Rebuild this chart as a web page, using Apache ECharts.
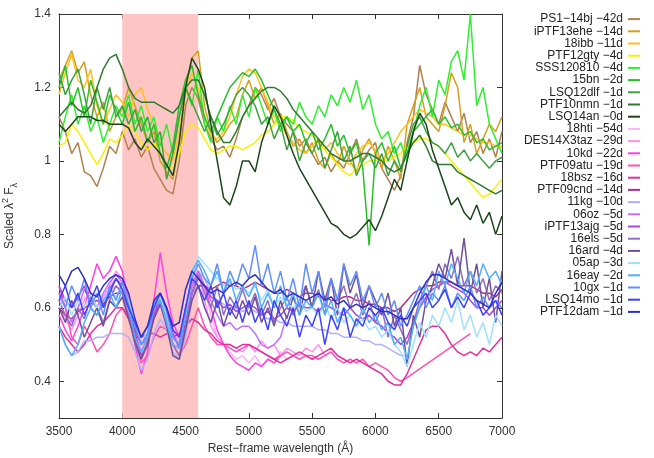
<!DOCTYPE html>
<html><head><meta charset="utf-8">
<script src="https://cdn.jsdelivr.net/npm/echarts@6/dist/echarts.min.js"></script>
<style>html,body{margin:0;padding:0;background:#fff}#c{width:654px;height:458px}</style>
</head><body><div id="c"></div>
<script>
const wavelength = [3500,3550,3600,3650,3700,3750,3800,3850,3900,3950,
4000,4050,4100,4150,4200,4250,4300,4350,4400,4450,
4500,4550,4600,4650,4700,4750,4800,4850,4900,4950,
5000,5050,5100,5150,5200,5250,5300,5350,5400,5450,
5500,5550,5600,5650,5700,5750,5800,5850,5900,5950,
6000,6050,6100,6150,6200,6250,6300,6350,6400,6450,
6500,6550,6600,6650,6700,6750,6800,6850,6900,6950,
7000];
const xTicks = [3500,4000,4500,5000,5500,6000,6500,7000];
const yTicks = [0.4,0.6,0.8,1.0,1.2,1.4];
const bandRange = [4000,4600];

const names = ['PS1−14bj −42d','iPTF13ehe −14d','18ibb −11d','PTF12gty −4d','SSS120810 −4d','15bn −2d','LSQ12dlf −1d','PTF10nmn −1d','LSQ14an −0d',
'18hti −54d','DES14X3taz −29d','10kd −22d','PTF09atu −19d','18bsz −16d','PTF09cnd −14d','11kg −10d','06oz −5d','iPTF13ajg −5d','16els −5d','16ard −4d','05ap −3d','16eay −2d','10gx −1d','LSQ14mo −1d','PTF12dam −1d'];
const colors = ['#b08050','#d4a020','#ffc020','#f8f000','#30ee30','#28c028','#40a040','#307a30','#1c451c',
'#ffb4f4','#ff90f0','#ff40e4','#ff50b4','#e0309c','#b03080','#b0b0ff','#c070ff','#a844e0','#9070c0','#705098','#a0e0ff','#50b0ff','#6090ff','#4040ff','#3030c8'];

const ps1_14bj = [1.12,1.08,1.02,1.05,0.97,0.96,0.93,0.98,1.04,1.02,
1.08,1.03,1.06,1.01,1.04,0.98,0.95,0.92,0.91,1.0,
1.15,1.2,1.17,1.1,1.06,1.03,1.04,1.01,1.06,1.12,
1.15,1.2,1.18,1.14,1.17,1.12,1.1,1.08,1.04,1.06,
1.02,0.99,1.01,0.97,1.0,0.98,1.02,1.06,1.0,1.03,
1.05,0.98,0.95,0.92,0.96,1.05,1.12,1.26,1.18,1.14,
1.1,1.16,1.12,1.08,1.13,1.05,1.08,1.02,1.06,1.01,
1.08];
const iptf13ehe = [1.22,1.26,1.3,1.24,1.27,1.18,1.12,1.16,1.08,1.12,
1.14,1.2,1.15,1.1,1.05,1.08,1.0,0.97,0.95,1.05,
1.2,1.28,1.3,1.15,1.08,1.05,1.07,1.1,1.12,1.18,
1.22,1.17,1.2,1.15,1.1,1.13,1.08,1.04,1.06,1.02,
1.05,1.0,0.98,1.02,0.99,1.04,1.0,0.97,1.03,1.06,
1.02,0.98,1.04,1.0,0.95,1.1,1.15,1.2,1.12,1.1,
1.08,1.15,1.24,1.2,1.05,1.1,1.02,1.06,1.1,1.08,
1.12];
const sn18ibb = [1.18,1.24,1.29,1.22,1.2,1.25,1.15,1.1,1.14,1.18,
1.16,1.12,1.18,1.2,1.14,1.1,1.05,1.02,1.0,1.08,
1.18,1.24,1.2,1.12,1.07,1.06,1.08,1.12,1.18,1.23,
1.25,1.24,1.2,1.16,1.12,1.1,1.07,1.05,1.03,1.02,
1.04,1.06,1.03,1.05,1.02,1.0,0.99,1.02,1.04,1.05,
1.03,1.0,1.02,1.05,1.08,1.1,1.12,1.14,1.13,1.12,
1.1,1.1,1.09,1.08,1.07,1.07,1.06,1.05,1.05,1.04,
1.04];
const ptf12gty = [1.04,1.05,1.1,1.08,1.05,1.02,0.99,1.02,1.06,1.05,
1.07,1.1,1.08,1.05,1.03,1.05,1.02,0.99,0.98,1.02,
1.08,1.1,1.09,1.06,1.03,1.02,1.03,1.04,1.04,1.03,
1.04,1.05,1.07,1.08,1.1,1.12,1.12,1.11,1.09,1.08,
1.07,1.05,1.03,1.01,0.99,0.97,0.96,0.98,0.99,1.0,
1.0,1.0,1.0,1.01,1.02,1.04,1.05,1.06,1.06,1.05,
1.04,1.02,1.0,0.98,0.96,0.94,0.92,0.9,0.91,0.93,
0.95];
const sss120810 = [1.05,1.12,1.18,1.1,1.15,1.08,1.12,1.05,1.1,1.15,
1.12,1.18,1.1,1.15,1.08,1.12,1.04,1.1,1.02,1.12,
1.2,1.15,1.25,1.1,1.05,1.12,1.08,1.15,1.1,1.18,
1.12,1.2,1.15,1.1,1.14,1.08,1.12,1.1,1.16,1.12,
1.1,1.15,1.12,1.18,1.15,1.2,1.16,1.22,1.14,1.18,
1.1,1.06,1.08,1.02,1.05,1.0,1.08,1.15,1.2,1.12,
1.22,1.18,1.27,1.3,1.22,1.4,1.15,1.2,1.1,1.06,
1.02];
const sn15bn = [1.2,1.26,1.15,1.2,1.12,1.22,1.16,1.1,1.18,1.14,
1.1,1.16,1.08,1.12,1.05,1.1,1.02,0.98,1.04,1.15,
1.22,1.26,1.18,1.12,1.08,1.12,1.16,1.2,1.22,1.24,
1.23,1.25,1.22,1.18,1.14,1.1,1.12,1.08,1.1,1.05,
1.08,1.03,1.06,1.1,1.04,1.07,1.02,1.05,0.98,0.77,
1.02,1.05,1.0,1.04,0.98,1.02,1.08,1.1,1.12,1.14,
1.1,1.12,1.09,1.1,1.07,1.08,1.05,1.06,1.03,1.04,
1.05];
const lsq12dlf = [1.24,1.18,1.22,1.25,1.18,1.1,1.2,1.14,1.2,1.12,
1.15,1.1,1.14,1.08,1.12,1.05,1.08,0.95,1.02,1.12,
1.2,1.16,1.12,1.08,1.12,1.07,1.1,1.14,1.18,1.2,
1.18,1.15,1.1,1.12,1.06,1.1,1.03,1.08,1.0,1.05,
1.02,1.06,0.98,1.03,1.08,1.0,1.04,0.96,1.0,1.02,
0.98,1.02,0.96,1.0,0.97,1.04,1.1,1.12,1.08,1.05,
1.04,1.02,1.05,1.01,1.03,1.0,1.02,1.0,0.98,1.0,
1.01];
const ptf10nmn = [1.12,1.14,1.16,1.14,1.13,1.15,1.2,1.25,1.28,1.29,
1.25,1.2,1.17,1.16,1.16,1.16,1.15,1.14,1.13,1.15,
1.2,1.22,1.22,1.18,1.12,1.08,1.05,1.05,1.08,1.12,
1.15,1.17,1.19,1.2,1.2,1.19,1.17,1.14,1.12,1.1,
1.08,1.06,1.04,1.02,1.01,1.0,1.0,1.01,1.02,1.02,
1.01,1.0,0.98,0.97,0.98,1.02,1.05,1.07,1.04,1.0,
0.99,0.99,0.99,0.97,0.96,0.95,0.94,0.93,0.92,0.91,
0.92];
const lsq14an = [1.1,1.08,1.1,1.12,1.12,1.12,1.11,1.11,1.1,1.1,
1.1,1.09,1.05,1.03,1.06,1.04,1.02,0.99,0.96,1.05,
1.2,1.28,1.25,1.2,1.1,1.0,0.9,0.88,0.93,1.0,
1.0,0.97,1.05,1.1,1.15,1.12,1.07,1.02,0.98,0.95,
0.92,0.89,0.86,0.83,0.82,0.8,0.79,0.8,0.82,0.84,
0.81,0.85,0.9,0.95,0.92,1.0,1.08,1.13,1.1,1.03,
0.98,0.93,0.88,0.9,0.86,0.84,0.88,0.83,0.86,0.8,
0.85];

const sn18hti = [0.63,0.6,0.56,0.6,0.63,0.6,0.58,0.61,0.64,0.66,
0.65,0.6,0.52,0.46,0.5,0.58,0.62,0.58,0.52,0.49,
0.56,0.64,0.69,0.65,0.58,0.52,0.5,0.48,0.46,0.47,
0.45,0.47,0.44,0.46,0.45,0.48,0.46];
const des14x3taz = [0.6,0.57,0.54,0.58,0.62,0.64,0.6,0.63,0.66,0.7,
0.68,0.62,0.55,0.48,0.52,0.6,0.64,0.6,0.54,0.5,
0.58,0.66,0.7,0.62,0.55,0.52,0.5,0.5,0.49,0.48,
0.5,0.48,0.51,0.49,0.5,0.47,0.49,0.48,0.47,0.49,
0.48,0.5,0.47,0.48];
const sn10kd = [0.58,0.54,0.51,0.55,0.6,0.66,0.72,0.68,0.7,0.74,
0.7,0.62,0.5,0.42,0.48,0.62,0.75,0.64,0.56,0.52,
0.6,0.66,0.7,0.66,0.6,0.54,0.5,0.47,0.45,0.44,
0.43,0.45,0.44,0.46,0.45,0.47];
const ptf09atu = [0.66,0.6,0.52,0.5,0.55,0.52,0.48,0.5,0.53,0.58,
0.6,0.58,0.52,0.45,0.47,0.52,0.55,0.54,0.5,0.47,
0.5,0.55,0.6,0.55,0.52,0.5,0.5,0.49,0.48,0.49,
0.5,0.49,0.48,0.47,0.46,0.47,0.48,0.47,0.46,0.47,
0.47,0.46,0.47,0.48,0.46,0.45,0.46,0.45,0.46,0.44,
0.45,0.44,0.43,0.41,0.4,0.41,null,null,null,null,
null,null,null,null,null,0.53];
const sn18bsz = [0.55,0.52,0.5,0.48,0.5,0.53,0.55,0.56,0.58,0.6,
0.6,0.57,0.52,0.52,0.53,0.53,0.52,0.53,0.52,0.53,
0.55,0.57,0.56,0.54,0.53,0.51,0.5,0.5,0.49,0.5,
0.5,0.49,0.48,0.47,0.46,0.45,0.46,0.47,0.48,0.47,
0.46,0.47,0.48,0.49,0.47,0.46,0.45,0.46,0.45,0.44,
0.43,0.42,0.4,0.39,0.39,0.42,0.46,0.5,0.54,0.55,
0.55,0.53,0.5,0.48,0.47,0.48,0.47,0.49,0.48,0.5,
0.52];
const ptf09cnd = [0.6,0.58,0.57,0.59,0.6,0.61,0.62,0.61,0.63,0.64,
0.64,0.6,0.54,0.5,0.52,0.58,0.61,0.58,0.52,0.5,
0.56,0.63,0.66,0.66,0.65,0.66,0.67,0.66,0.66,0.65,
0.66,0.67,0.66,0.65,0.64,0.64,0.65,0.64,0.63,0.64,
0.64,0.63,0.63,0.62,0.62,0.63,0.63,0.62,0.62,0.61,
0.61,0.6,0.6,0.59,0.6,0.62,0.64,0.65,0.66,0.66,
0.67,0.67,0.67,0.66,0.66,0.66,0.65,0.64,0.64,0.63,
0.65];
const sn11kg = [0.55,0.5,0.47,0.48,0.51,0.51,0.52,0.52,0.53,0.53,
0.53,0.52,0.48,0.43,0.46,0.53,0.57,0.54,0.48,0.46,
0.52,0.62,0.7,0.68,0.64,0.62,0.61,0.6,0.6,0.59,
0.6,0.59,0.58,0.57,0.57,0.56,0.56,0.55,0.55,0.55,
0.55,0.54,0.54,0.53,0.53,0.52,0.52,0.52,0.51,0.51,
0.5,0.5,0.49,0.48,0.47,0.47];
const sn06oz = [0.64,0.6,0.56,0.6,0.65,0.62,0.6,0.64,0.67,0.69,
0.67,0.62,0.55,0.5,0.52,0.58,0.62,0.58,0.52,0.5,
0.58,0.66,0.7,0.66,0.62,0.58,0.55,0.56,0.54,0.55,
0.55,0.53,0.5,0.49,0.5,0.52,0.58];
const iptf13ajg = [0.66,0.62,0.6,0.63,0.66,0.6,0.58,0.62,0.65,0.68,
0.66,0.6,0.53,0.47,0.5,0.58,0.63,0.6,0.53,0.49,
0.56,0.64,0.68,0.66,0.63,0.62,0.6,0.61,0.59,0.6,
0.61,0.6,0.58,0.59,0.57,0.58,0.6,0.59,0.61,0.6,
0.6,0.59,0.61,0.6,0.59,0.58,0.6,0.58,0.57,0.58,
0.56,0.55,0.53,0.52,0.5,0.52,0.56,0.6,0.63,0.65,
0.66,0.67,0.66,0.65,0.64,0.62,0.6,0.6,0.58,0.6,
0.62];
const sn16els = [0.62,0.58,0.55,0.6,0.57,0.63,0.6,0.56,0.62,0.66,
0.64,0.58,0.5,0.46,0.51,0.6,0.62,0.56,0.5,0.47,
0.55,0.64,0.69,0.64,0.6,0.66,0.58,0.63,0.6,0.65,
0.6,0.64,0.58,0.62,0.56,0.6,0.63,0.58,0.62,0.66,
0.6,0.65,0.58,0.68,0.62,0.66,0.6,0.64,0.58,0.62,
0.56,0.6,0.52,0.58,0.54,0.5,0.56,0.62,0.66,0.7,
0.65,0.72,0.68,0.74,0.66,0.7,0.64,0.68,0.62,0.66,
0.64];
const sn16ard = [0.6,0.56,0.62,0.58,0.52,0.56,0.6,0.55,0.62,0.6,
0.63,0.57,0.51,0.46,0.5,0.57,0.61,0.55,0.47,0.46,
0.54,0.62,0.66,0.6,0.56,0.62,0.55,0.6,0.57,0.62,
0.58,0.63,0.56,0.6,0.55,0.62,0.57,0.63,0.58,0.66,
0.6,0.7,0.62,0.68,0.58,0.72,0.64,0.69,0.6,0.66,
0.62,0.58,0.64,0.55,0.6,0.44,0.58,0.52,0.62,0.66,
0.72,0.68,0.76,0.66,0.79,0.64,0.72,0.6,0.68,0.56,
0.7];
const sn05ap = [0.6,0.63,0.58,0.62,0.6,0.64,0.6,0.62,0.65,0.63,
0.66,0.62,0.56,0.5,0.54,0.6,0.63,0.58,0.52,0.5,
0.58,0.68,0.74,0.72,0.7,0.68,0.66,0.67,0.65,0.66,
0.64,0.66,0.62,0.65,0.6,0.63,0.61,0.6,0.62,0.59,
0.6,0.58,0.61,0.57,0.6,0.56,0.58,0.55,0.57,0.54,
0.55,0.52,0.54,0.5,0.48,0.44,0.5,0.56,0.52,0.58,
0.55,0.6,0.56,0.62,0.54,0.58,0.52,0.56,0.5,0.58,
0.55];
const sn16eay = [0.55,0.5,0.47,0.5,0.56,0.6,0.58,0.62,0.64,0.6,
0.65,0.6,0.52,0.48,0.52,0.6,0.62,0.56,0.5,0.49,
0.58,0.7,0.73,0.7,0.66,0.7,0.64,0.68,0.62,0.66,
0.63,0.67,0.6,0.64,0.6,0.66,0.6,0.64,0.58,0.62,
0.6,0.64,0.58,0.62,0.56,0.6,0.58,0.55,0.6,0.56,
0.58,0.54,0.56,0.5,0.52,0.46,0.55,0.6,0.66,0.62,
0.7,0.66,0.72,0.68,0.64,0.7,0.66,0.72,0.68,0.7,
0.66];
const sn10gx = [0.64,0.6,0.66,0.62,0.68,0.6,0.64,0.58,0.66,0.62,
0.67,0.61,0.55,0.5,0.53,0.61,0.64,0.59,0.52,0.5,
0.6,0.68,0.72,0.68,0.66,0.72,0.64,0.7,0.66,0.72,
0.68,0.77,0.66,0.72,0.64,0.7,0.62,0.68,0.6,0.72,
0.64,0.7,0.6,0.68,0.62,0.72,0.66,0.7,0.62,0.66,
0.6,0.64,0.58,0.62,0.55,0.58,0.62,0.66,0.6,0.64,
0.62,0.66,0.6,0.64,0.62,0.66,0.6,0.63,0.6,0.62,
0.6];
const lsq14mo = [0.62,0.66,0.6,0.64,0.58,0.62,0.66,0.6,0.64,0.68,
0.65,0.6,0.56,0.52,0.55,0.6,0.64,0.6,0.54,0.52,
0.6,0.68,0.66,0.62,0.66,0.6,0.64,0.58,0.62,0.56,
0.62,0.56,0.6,0.54,0.62,0.58,0.55,0.6,0.52,0.58,
0.55,0.6,0.5,0.58,0.54,0.6,0.52,0.57,0.55,0.6,
0.58,0.6,0.56,0.54,0.58,0.55,0.6,0.62,0.64,0.6,
0.62,0.65,0.6,0.63,0.6,0.64,0.62,0.58,0.6,0.62,
0.58];
const ptf12dam = [0.69,0.66,0.7,0.71,0.68,0.64,0.63,0.66,0.68,0.69,
0.68,0.64,0.57,0.52,0.55,0.62,0.64,0.6,0.55,0.56,
0.65,0.7,0.68,0.66,0.64,0.65,0.64,0.66,0.67,0.66,
0.68,0.69,0.67,0.65,0.64,0.65,0.63,0.64,0.63,0.62,
0.63,0.64,0.62,0.63,0.61,0.62,0.6,0.61,0.6,0.61,
0.6,0.59,0.59,0.58,0.57,0.57,0.6,0.64,0.67,0.69,
0.69,0.68,0.67,0.66,0.65,0.64,0.62,0.61,0.6,0.64,
0.67];

const seriesValues = [ps1_14bj,iptf13ehe,sn18ibb,ptf12gty,sss120810,sn15bn,lsq12dlf,ptf10nmn,lsq14an,
sn18hti,des14x3taz,sn10kd,ptf09atu,sn18bsz,ptf09cnd,sn11kg,sn06oz,iptf13ajg,sn16els,sn16ard,sn05ap,sn16eay,sn10gx,lsq14mo,ptf12dam];

const chart = echarts.init(document.getElementById('c'), null, {renderer:'canvas'});
const axisColor = '#333';
const font = '"Liberation Sans", Arial, sans-serif';
function pairs(vals){
  const out = [];
  for (let i = 0; i < vals.length; i++) out.push([wavelength[i], vals[i] == null ? '-' : vals[i]]);
  return out;
}
const series = names.map((n, k) => ({
  name: n, type: 'line', xAxisIndex: 0, yAxisIndex: 0,
  data: pairs(seriesValues[k]), showSymbol: false, symbol: 'none',
  connectNulls: seriesValues[k] === ptf09atu,
  lineStyle: {width: 1.5, color: colors[k]}, itemStyle: {color: colors[k]},
  animation: false, z: 3,
  markArea: k === 0 ? {silent: true, itemStyle: {color: '#ffc4c4'}, data: [[{xAxis: bandRange[0]}, {xAxis: bandRange[1]}]]} : undefined
}));
const yFmt = v => String(+(+v).toFixed(1));
const xFmt = v => String(Math.round(v));
const baseX = {type: 'value', min: 3500, max: 7000, interval: 500, splitLine: {show: false},
  axisLine: {show: true, onZero: false, lineStyle: {color: axisColor, width: 1}},
  axisTick: {show: true, inside: true, length: 5, lineStyle: {color: axisColor}}};
const baseY = {type: 'value', min: 0.3, max: 1.4, splitLine: {show: false},
  axisLine: {show: true, onZero: false, lineStyle: {color: axisColor, width: 1}},
  axisTick: {show: true, inside: true, length: 5, customValues: yTicks, lineStyle: {color: axisColor}}};
chart.setOption({
  backgroundColor: '#fff',
  animation: false,
  textStyle: {fontFamily: font},
  grid: {left: 59, right: 152, top: 14, bottom: 40, containLabel: false, outerBoundsMode: 'none'},
  xAxis: [
    Object.assign({}, baseX, {position: 'bottom', axisLabel: {show: true, color: axisColor, fontSize: 12, margin: 8, fontFamily: font, customValues: xTicks, formatter: xFmt},
      name: 'Rest−frame wavelength (Å)', nameLocation: 'middle', nameGap: 25, nameTextStyle: {color: axisColor, fontSize: 12, fontFamily: font}}),
    Object.assign({}, baseX, {position: 'top', axisLabel: {show: false}})
  ],
  yAxis: [
    Object.assign({}, baseY, {position: 'left', axisLabel: {show: true, color: axisColor, fontSize: 12, margin: 8, fontFamily: font, customValues: yTicks, formatter: yFmt},
      name: '{t|Scaled λ}{sup|2}{t| F}{sub|λ}', nameLocation: 'middle', nameGap: 40,
      nameTextStyle: {color: axisColor, fontFamily: font, rich: {
        t: {fontSize: 12, color: axisColor, lineHeight: 18, fontFamily: font},
        sup: {fontSize: 9, color: axisColor, lineHeight: 9, verticalAlign: 'top', fontFamily: font},
        sub: {fontSize: 9, color: axisColor, lineHeight: 9, verticalAlign: 'bottom', fontFamily: font}}}}),
    Object.assign({}, baseY, {position: 'right', axisLabel: {show: false}})
  ],
  legend: {
    orient: 'vertical', right: 14, top: 13, align: 'right', padding: 0,
    itemWidth: 12, itemHeight: 2, itemGap: 0, icon: 'rect',
    data: names,
    textStyle: {fontSize: 12, color: '#222', fontFamily: font, width: 100, align: 'right', lineHeight: 12.2, padding: 0}
  },
  series: series
});
</script></body></html>
